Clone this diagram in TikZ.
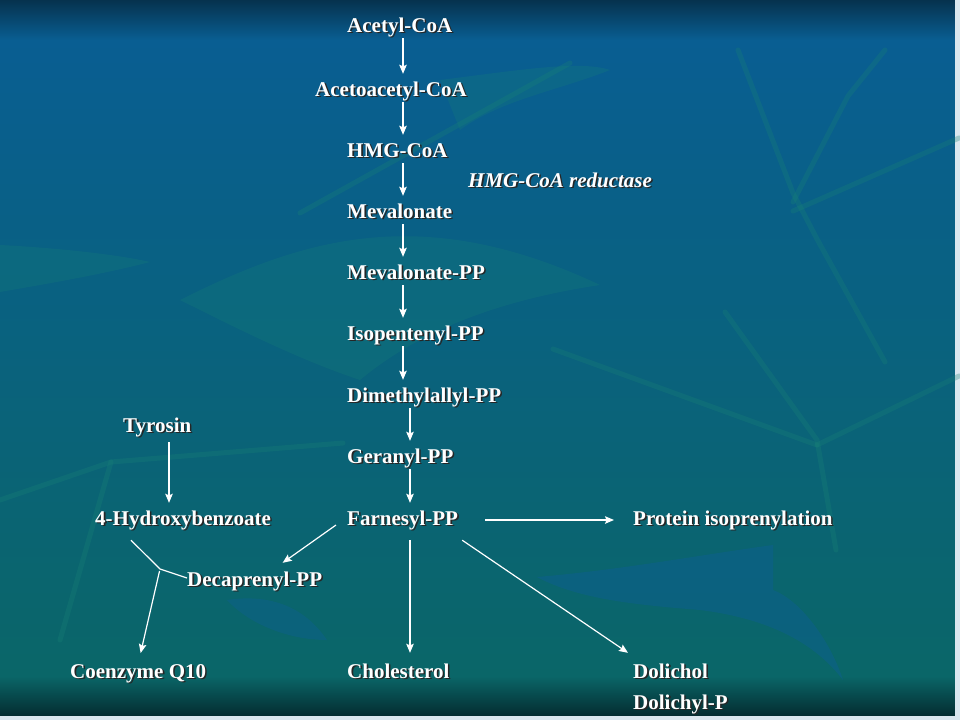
\documentclass[tikz,border=0pt]{standalone}
\usepackage{fontspec}
\setmainfont{Liberation Serif}
\usetikzlibrary{arrows.meta, positioning, calc}
\definecolor{bgtop}{RGB}{6,50,78}
\definecolor{bgblue}{RGB}{9,94,146}
\definecolor{bgteal}{RGB}{10,102,104}
\definecolor{bgdark}{RGB}{4,44,48}
\definecolor{leafgreen}{RGB}{24,130,118}
\definecolor{leafblue}{RGB}{14,92,160}
\newcommand{\sh}[1]{\leavevmode\rlap{\kern1.6pt\raisebox{-1.6pt}{\color{black!85}#1}}#1}

\begin{document}
\begin{tikzpicture}[x=1pt,y=-1pt,>={Stealth[length=9pt,width=7.5pt,inset=1.5pt]},
            met/.style={anchor=base west,text=white,inner sep=0pt,
              text height=14pt,text depth=4pt,
              font=\fontsize{21}{25}\selectfont\bfseries},
            enz/.style={met,font=\fontsize{21}{25}\selectfont\bfseries\itshape},
            flow/.style={->,draw=white,line width=1.2pt,shorten <=2pt,shorten >=8pt},
            link/.style={draw=white,line width=1.2pt},
            stalk/.style={draw=leafgreen,line width=5pt,line cap=round,opacity=0.3},
            blade/.style={fill=leafgreen,opacity=0.25}]
  \useasboundingbox (0,0) rectangle (960,720);
  % background
  \shade[top color=bgtop,bottom color=bgblue] (0,0) rectangle (955,40);
  \shade[top color=bgblue,bottom color=bgteal,middle color=bgblue!50!bgteal] (0,40) rectangle (955,676);
  \shade[top color=bgteal,bottom color=bgdark] (0,676) rectangle (955,716);
  \fill[white!85!bgblue] (955,0) rectangle (960,720);
  \fill[white!85!bgblue] (0,716) rectangle (960,720);
  % leaves
  \fill[blade] (0,245) .. controls (60,248) and (120,255) .. (150,262) .. controls (100,275) and (40,285) .. (0,292) -- cycle;
  \fill[blade] (180,300) .. controls (300,240) and (420,200) .. (600,285) .. controls (500,300) and (420,330) .. (360,380) .. controls (300,360) and (240,330) .. (180,300) -- cycle;
  \fill[blade] (440,80) .. controls (520,70) and (580,60) .. (610,70) .. controls (560,90) and (500,100) .. (460,130) -- cycle;
  \fill[leafblue,opacity=0.35] (537,577) .. controls (620,570) and (700,555) .. (773,545) -- (773,590) .. controls (800,600) and (830,640) .. (843,680) .. controls (820,650) and (780,620) .. (700,610) .. controls (640,605) and (580,600) .. (537,577) -- cycle;
  \fill[leafblue,opacity=0.3] (227,600) .. controls (260,595) and (300,600) .. (327,640) .. controls (290,640) and (250,625) .. (227,600) -- cycle;
  \draw[stalk] (738,50) -- (793,193) -- (817,239) -- (885,362);
  \draw[stalk] (885,50) -- (848,96) -- (793,202);
  \draw[stalk] (793,211) -- (959,138);
  \draw[stalk] (725,312) -- (817,440) -- (836,550);
  \draw[stalk] (817,445) -- (959,376);
  \draw[stalk] (553,349) -- (817,445);
  \draw[stalk] (0,500) -- (111,462) -- (343,443);
  \draw[stalk] (111,462) -- (60,640);
  \draw[stalk] (300,213) -- (570,63);

  % pathway
  \coordinate (colA) at (403,0);
  \coordinate (colB) at (410,0);
  \coordinate (colC) at (169,0);
  \node[met] (acetyl)   at (347,32)  {\sh{Acetyl-CoA}};
  \node[met] (acetoa)   at (315,96)  {\sh{Acetoacetyl-CoA}};
  \node[met] (hmg)      at (347,157) {\sh{HMG-CoA}};
  \node[enz] (reduct)   at (468,187) {\sh{HMG-CoA reductase}};
  \node[met] (meva)     at (347,218) {\sh{Mevalonate}};
  \node[met] (mevapp)   at (347,279) {\sh{Mevalonate-PP}};
  \node[met] (ipp)      at (347,340) {\sh{Isopentenyl-PP}};
  \node[met] (dmapp)    at (347,402) {\sh{Dimethylallyl-PP}};
  \node[met] (gpp)      at (347,463) {\sh{Geranyl-PP}};
  \node[met] (fpp)      at (347,525) {\sh{Farnesyl-PP}};
  \node[met] (chol)     at (347,678) {\sh{Cholesterol}};
  \node[met] (tyr)      at (123,432) {\sh{Tyrosin}};
  \node[met] (hba)      at (95,525)  {\sh{4-Hydroxybenzoate}};
  \node[met] (decap)    at (187,586) {\sh{Decaprenyl-PP}};
  \node[met] (coq)      at (70,678)  {\sh{Coenzyme Q10}};
  \node[met] (prot)     at (633,525) {\sh{Protein isoprenylation}};
  \node[met] (dol)      at (633,678) {\sh{Dolichol}};
  \node[met] (dolp)     at (633,709) {\sh{Dolichyl-P}};

  \draw[flow] (acetyl.south -| colA) -- (acetoa.north -| colA);
  \draw[flow] (acetoa.south -| colA) -- (hmg.north -| colA);
  \draw[flow] (hmg.south -| colA) -- (meva.north -| colA);
  \draw[flow] (meva.south -| colA) -- (mevapp.north -| colA);
  \draw[flow] (mevapp.south -| colA) -- (ipp.north -| colA);
  \draw[flow] (ipp.south -| colA) -- (dmapp.north -| colA);
  \draw[flow] (dmapp.south -| colB) -- (gpp.north -| colB);
  \draw[flow] (gpp.south -| colB) -- (fpp.north -| colB);
  \draw[flow,shorten <=11pt,shorten >=11pt] (fpp.south -| colB) -- (chol.north -| colB);
  \draw[flow,shorten <=6pt] (tyr.south -| colC) -- (hba.north -| colC);
  \draw[flow,shorten <=27pt,shorten >=19pt] (fpp.east) -- (prot.west);
  \draw[flow,shorten <=0pt,shorten >=0pt] ([xshift=-11pt]fpp.base west) -- ([xshift=28pt,yshift=9pt]decap.north);
  \draw[flow,shorten <=0pt,shorten >=0pt] ([xshift=4pt,yshift=-11pt]fpp.south east) -- ([xshift=-5pt,yshift=11pt]dol.north west);
  % condensation
  \coordinate (join) at (160,569);
  \draw[link] ([xshift=36pt,yshift=-11pt]hba.south west) -- (join) -- ([yshift=3pt]decap.west);
  \draw[flow,shorten <=2pt,shorten >=11pt] (join) -- (coq.north);
\end{tikzpicture}
\end{document}
